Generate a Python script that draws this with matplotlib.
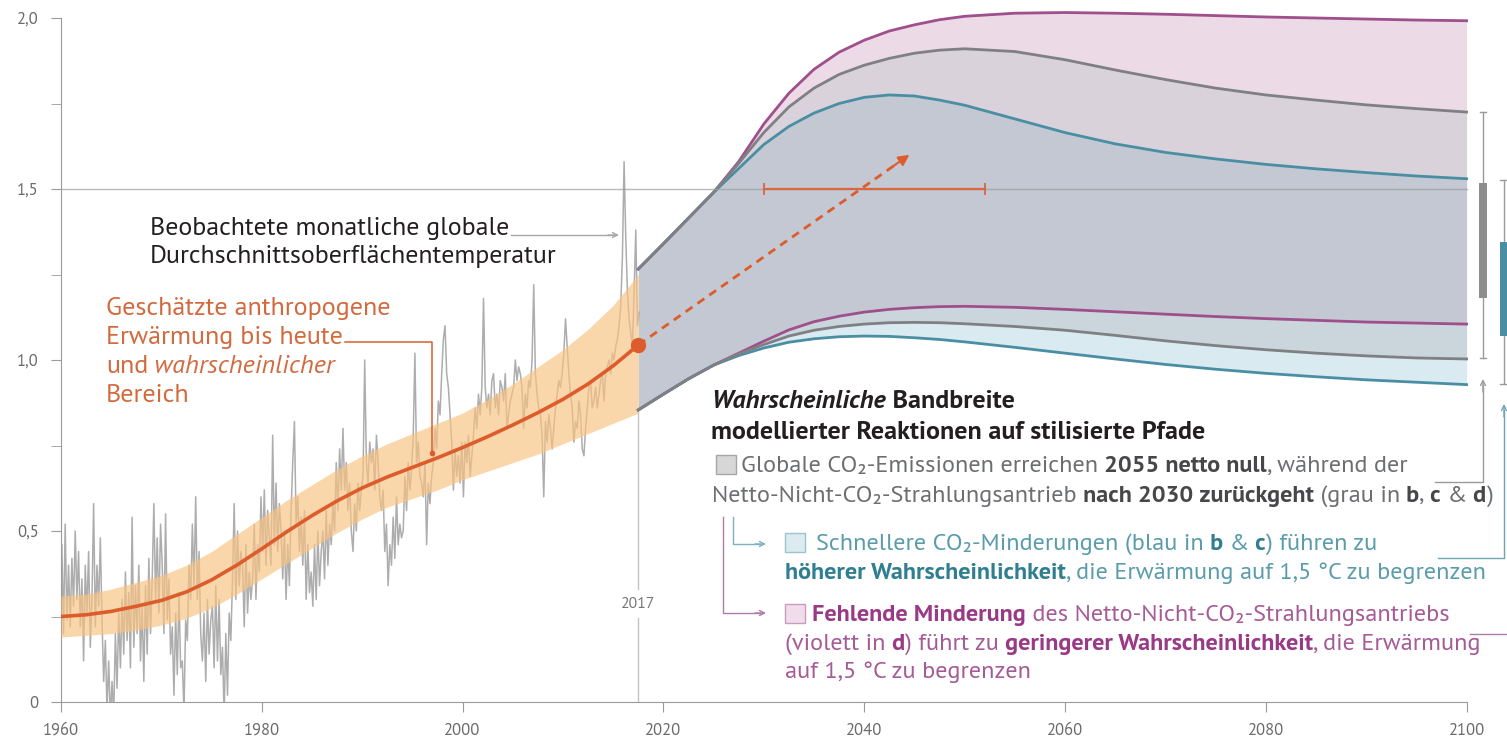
import numpy as np
import matplotlib
matplotlib.use('Agg')
import matplotlib.pyplot as plt
from matplotlib import font_manager
from matplotlib.lines import Line2D
from matplotlib.patches import Rectangle, FancyArrowPatch

W, H = 1507, 738

# observed monthly global mean surface temperature, six samples per year from 1960
OBS_START = 1960
OBS_VALUES = [
    0.46, 0.20, 0.52, 0.24, 0.40, 0.22,  # 1960
    0.42, 0.28, 0.50, 0.30, 0.44, 0.22,
    0.36, 0.12, 0.40, 0.26, 0.44, 0.16,
    0.30, 0.58, 0.22, 0.40, 0.28, 0.48,
    0.24, 0.06, 0.18, -0.02, 0.12, -0.05,
    0.06, -0.04, 0.20, 0.04, 0.26, 0.10,  # 1965
    0.30, 0.14, 0.38, 0.18, 0.32, 0.10,
    0.54, 0.16, 0.34, 0.20, 0.40, 0.12,
    0.28, 0.06, 0.34, 0.14, 0.42, 0.20,
    0.36, 0.58, 0.30, 0.48, 0.26, 0.52,
    0.40, 0.20, 0.55, 0.24, 0.36, 0.14,  # 1970
    0.22, 0.02, 0.26, 0.08, 0.32, 0.10,
    0.12, -0.03, 0.24, 0.18, 0.40, 0.30,
    0.52, 0.34, 0.60, 0.30, 0.44, 0.20,
    0.12, 0.26, 0.06, 0.30, 0.14, 0.24,
    0.28, 0.10, 0.34, 0.12, 0.30, 0.08,  # 1975
    0.16, -0.04, 0.20, 0.02, 0.26, 0.18,
    0.36, 0.58, 0.30, 0.50, 0.34, 0.44,
    0.40, 0.22, 0.46, 0.26, 0.38, 0.30,
    0.36, 0.52, 0.30, 0.46, 0.38, 0.60,
    0.44, 0.62, 0.40, 0.56, 0.48, 0.40,  # 1980
    0.78, 0.46, 0.64, 0.44, 0.58, 0.50,
    0.36, 0.50, 0.30, 0.46, 0.34, 0.56,
    0.70, 0.82, 0.52, 0.60, 0.44, 0.54,
    0.40, 0.56, 0.30, 0.46, 0.32, 0.38,
    0.28, 0.46, 0.30, 0.50, 0.34, 0.44,  # 1985
    0.50, 0.36, 0.56, 0.40, 0.52, 0.46,
    0.58, 0.50, 0.70, 0.56, 0.74, 0.62,
    0.80, 0.62, 0.70, 0.56, 0.64, 0.50,
    0.44, 0.58, 0.50, 0.64, 0.56, 0.62,
    0.66, 1.00, 0.70, 0.64, 0.76, 0.70,  # 1990
    0.74, 0.62, 0.78, 0.70, 0.60, 0.56,
    0.62, 0.44, 0.52, 0.34, 0.46, 0.40,
    0.54, 0.42, 0.60, 0.46, 0.52, 0.48,
    0.50, 0.66, 0.56, 0.70, 0.62, 0.68,
    0.78, 1.02, 0.70, 0.76, 0.66, 0.64,  # 1995
    0.60, 0.70, 0.46, 0.64, 0.58, 0.66,
    0.70, 0.80, 0.74, 0.88, 0.84, 0.96,
    1.06, 1.10, 0.96, 0.92, 0.84, 0.76,
    0.62, 0.74, 0.66, 0.72, 0.64, 0.76,
    0.60, 0.76, 0.70, 0.78, 0.66, 0.72,  # 2000
    0.78, 0.86, 0.80, 0.90, 0.84, 0.92,
    1.18, 0.92, 0.86, 0.90, 0.84, 0.94,
    0.96, 0.86, 0.90, 0.84, 0.94, 0.92,
    0.88, 0.96, 0.80, 0.84, 0.88, 0.90,
    0.92, 1.00, 0.94, 0.98, 0.96, 0.92,  # 2005
    0.80, 0.90, 0.86, 0.94, 0.92, 1.00,
    1.22, 0.96, 0.90, 0.86, 0.84, 0.78,
    0.60, 0.82, 0.76, 0.84, 0.80, 0.74,
    0.80, 0.86, 0.90, 0.94, 0.92, 0.96,
    1.02, 1.12, 1.04, 0.96, 0.90, 0.86,  # 2010
    0.76, 0.82, 0.80, 0.88, 0.84, 0.74,
    0.72, 0.80, 0.86, 0.92, 0.94, 0.86,
    0.88, 0.92, 0.86, 0.90, 0.94, 0.96,
    0.88, 0.96, 0.98, 1.00, 0.96, 1.02,
    1.00, 1.04, 1.06, 1.10, 1.16, 1.30,  # 2015
    1.58, 1.36, 1.20, 1.12, 1.08, 1.04,
    1.20, 1.38, 1.10, 1.14,
]

# estimated anthropogenic warming and likely range
ANTH_YEARS = [1960, 1962.5, 1965, 1967.5, 1970, 1972.5, 1975, 1977.5, 1980, 1982.5, 1985, 1987.5,
              1990, 1992.5, 1995, 1997.5, 2000, 2002.5, 2005, 2007.5, 2010, 2012.5, 2015, 2017.5]
ANTH_MID = [0.25, 0.255, 0.265, 0.28, 0.297, 0.322, 0.357, 0.40, 0.448, 0.498, 0.545, 0.588,
            0.626, 0.658, 0.686, 0.714, 0.744, 0.776, 0.81, 0.846, 0.885, 0.93, 0.983, 1.044]
ANTH_HI = [0.31, 0.315, 0.33, 0.35, 0.37, 0.40, 0.44, 0.49, 0.54, 0.59, 0.635, 0.68,
           0.72, 0.755, 0.785, 0.815, 0.845, 0.885, 0.93, 0.98, 1.03, 1.09, 1.16, 1.25]
ANTH_LO = [0.19, 0.195, 0.20, 0.21, 0.225, 0.245, 0.275, 0.315, 0.36, 0.405, 0.45, 0.495,
           0.535, 0.57, 0.595, 0.62, 0.65, 0.675, 0.70, 0.725, 0.755, 0.785, 0.815, 0.845]

# likely ranges of modelled responses to stylised pathways
FUT_YEARS = [2017.5, 2020, 2022.5, 2025, 2027.5, 2030, 2032.5, 2035, 2037.5, 2040, 2042.5, 2045,
             2047.5, 2050, 2055, 2060, 2065, 2070, 2075, 2080, 2085, 2090, 2095, 2100]
MAG_UP = [1.266, 1.34, 1.415, 1.49, 1.58, 1.69, 1.78, 1.85, 1.90, 1.935, 1.962, 1.98,
          1.995, 2.005, 2.014, 2.016, 2.014, 2.011, 2.007, 2.003, 2.0, 1.997, 1.994, 1.992]
GREY_UP = [1.266, 1.34, 1.415, 1.49, 1.575, 1.665, 1.74, 1.795, 1.835, 1.862, 1.882, 1.897,
           1.906, 1.91, 1.902, 1.878, 1.848, 1.82, 1.795, 1.775, 1.76, 1.746, 1.735, 1.725]
BLUE_UP = [1.266, 1.34, 1.415, 1.49, 1.56, 1.63, 1.683, 1.722, 1.75, 1.768, 1.775, 1.772,
           1.76, 1.745, 1.705, 1.665, 1.632, 1.607, 1.588, 1.572, 1.559, 1.548, 1.538, 1.53]
MAG_LO = [0.854, 0.90, 0.945, 0.985, 1.02, 1.055, 1.088, 1.112, 1.128, 1.14, 1.148, 1.153,
          1.156, 1.157, 1.154, 1.148, 1.141, 1.134, 1.127, 1.121, 1.116, 1.111, 1.108, 1.105]
GREY_LO = [0.854, 0.90, 0.945, 0.985, 1.018, 1.045, 1.07, 1.087, 1.098, 1.105, 1.109, 1.11,
           1.109, 1.106, 1.098, 1.087, 1.072, 1.056, 1.042, 1.03, 1.02, 1.012, 1.006, 1.003]
BLUE_LO = [0.854, 0.90, 0.945, 0.985, 1.013, 1.035, 1.052, 1.062, 1.068, 1.07, 1.069, 1.065,
           1.06, 1.053, 1.037, 1.02, 1.003, 0.987, 0.973, 0.961, 0.951, 0.942, 0.935, 0.928]

# 2100 ranges: whisker low, box low, box high, whisker high
GREY_RANGE = [1.006, 1.181, 1.518, 1.725]
BLUE_RANGE = [0.93, 1.07, 1.345, 1.526]

NOW_YEAR = 2017.5
NOW_VALUE = 1.044
ARROW_TIP = (2044.5, 1.60)
WINDOW_15 = [2030, 2052]
LEVEL_15 = 1.5

Y_TICKS = [0, 0.5, 1.0, 1.5, 2.0]
Y_LABELS = ['0', '0,5', '1,0', '1,5', '2,0']
Y_MINOR = [0.25, 0.75, 1.25, 1.75]
X_TICKS = [1960, 1980, 2000, 2020, 2040, 2060, 2080, 2100]

C_OBS = '#adadad'
C_ORANGE = '#dd5c2c'
C_BAND = '#f9c383'
C_ORANGE_TXT = '#d36a3e'
C_MAG = '#9e4f8c'
C_GREY = '#7f8083'
C_BLUE = '#4a8ea4'


def has_faces(name):
    faces = [f for f in font_manager.fontManager.ttflist if f.name == name]
    bold = any(isinstance(f.weight, int) and f.weight >= 600 or f.weight in ('bold', 'semibold') for f in faces)
    ital = any(f.style == 'italic' for f in faces)
    return bool(faces) and bold and ital


SANS = next((n for n in ['Source Sans 3', 'Source Sans Pro', 'PT Sans', 'Open Sans'] if has_faces(n)), 'DejaVu Sans')
FONT = [SANS, 'DejaVu Sans']

fig = plt.figure(figsize=(W / 100, H / 100), dpi=100)
ax = fig.add_axes([61 / W, (H - 702) / H, (W - 61) / W, 702 / H])
ax.set_xlim(1960, 1960 + (W - 61) / 10.04)
ax.set_ylim(0, 702 / 342)
REND = fig.canvas.get_renderer()


def px(x, y):
    # figure pixel -> data
    return 1960 + (x - 61) / 10.04, (702 - y) / 342


def ftext(x, y, s, **kw):
    kw.setdefault('family', FONT)
    return fig.text(x / W, 1 - y / H, s, va='baseline', **kw)


def measure(parts, size):
    total = 0
    for s, color, weight, style in parts:
        t = fig.text(0, 0, s, fontsize=size, fontweight=weight, fontstyle=style, family=FONT)
        total += t.get_window_extent(REND).width
        t.remove()
    return total


def fit(parts, target):
    return 10 * target / measure(parts, 10)


def rich(x, y, parts, size):
    for s, color, weight, style in parts:
        t = ftext(x, y, s, color=color, fontsize=size, fontweight=weight, fontstyle=style)
        x += t.get_window_extent(REND).width
    return x


def fline(xs, ys, color, lw=1.0):
    fig.add_artist(Line2D([x / W for x in xs], [1 - y / H for y in ys], color=color, lw=lw))


def farrow(p0, p1, color, lw=1.0):
    fig.add_artist(FancyArrowPatch((p0[0] / W, 1 - p0[1] / H), (p1[0] / W, 1 - p1[1] / H),
                                   transform=fig.transFigure, arrowstyle='->', mutation_scale=9,
                                   color=color, lw=lw, shrinkA=0, shrinkB=0))


def fbox(x, y, face, edge):
    fig.add_artist(Rectangle((x / W, 1 - (y + 19) / H), 20 / W, 19 / H, transform=fig.transFigure,
                             facecolor=face, edgecolor=edge, lw=1))


# axes styling
for s in ['top', 'right']:
    ax.spines[s].set_visible(False)
ax.spines['left'].set_bounds(0, 2.0)
ax.spines['bottom'].set_bounds(1960, 2100)
for s in ['left', 'bottom']:
    ax.spines[s].set_color('#9a9a9a')
ax.set_yticks(Y_TICKS)
ax.set_yticklabels(Y_LABELS)
ax.set_yticks(Y_MINOR, minor=True)
ax.set_xticks(X_TICKS)
tick_size = fit([('2100', 'k', 'normal', 'normal')], 36)
ax.tick_params(axis='both', which='both', direction='out', color='#9a9a9a', length=7,
               labelcolor='#6a6a6a', labelsize=tick_size)
ax.tick_params(axis='y', pad=9)
ax.tick_params(axis='x', pad=8)
for lab in ax.get_xticklabels() + ax.get_yticklabels():
    lab.set_family(FONT)

# reference lines
ax.axhline(LEVEL_15, xmin=0, xmax=(2100 - 1960) / (ax.get_xlim()[1] - 1960), color='#9c9c9c',
           lw=1, alpha=0.7, zorder=6)
ax.plot([NOW_YEAR, NOW_YEAR], [0, 0.245], color='#c4c4c4', lw=1, zorder=1)
ax.plot([NOW_YEAR, NOW_YEAR], [0.33, 0.86], color='#c4c4c4', lw=1, zorder=1)
ax.text(NOW_YEAR, 0.287, '2017', ha='center', va='center', fontsize=tick_size * 0.95,
        color='#777777', family=FONT)

# observed series
obs_t = OBS_START + (np.arange(len(OBS_VALUES)) + 0.5) / 6
ax.plot(obs_t, OBS_VALUES, color=C_OBS, lw=1.1, zorder=2)

# anthropogenic warming
ax.fill_between(ANTH_YEARS, ANTH_LO, ANTH_HI, color=C_BAND, alpha=0.68, lw=0, zorder=3)
ax.plot(ANTH_YEARS, ANTH_MID, color=C_ORANGE, lw=2.6, zorder=4, solid_capstyle='round')
ax.plot([NOW_YEAR], [NOW_VALUE], 'o', color=C_ORANGE, ms=10, zorder=7)

# future ranges, filled region by region
ax.fill_between(FUT_YEARS, GREY_UP, MAG_UP, color='#ecdae7', lw=0, zorder=1)
ax.fill_between(FUT_YEARS, BLUE_UP, GREY_UP, color='#d9d2db', lw=0, zorder=1)
ax.fill_between(FUT_YEARS, MAG_LO, BLUE_UP, color='#c3c8d2', lw=0, zorder=1)
ax.fill_between(FUT_YEARS, GREY_LO, MAG_LO, color='#cad5dc', lw=0, zorder=1)
ax.fill_between(FUT_YEARS, BLUE_LO, GREY_LO, color='#d9eaf0', lw=0, zorder=1)
for up, lo, c in [(MAG_UP, MAG_LO, C_MAG), (BLUE_UP, BLUE_LO, C_BLUE), (GREY_UP, GREY_LO, C_GREY)]:
    ax.plot(FUT_YEARS, up, color=c, lw=2, zorder=5)
    ax.plot(FUT_YEARS, lo, color=c, lw=2, zorder=5)

# dashed trend arrow and 1.5 degC window
ax.plot([NOW_YEAR, ARROW_TIP[0] - 1.2], [NOW_VALUE, ARROW_TIP[1] - 0.025], color=C_ORANGE,
        lw=2, dashes=(3, 2.2), zorder=6)
ax.annotate('', xy=ARROW_TIP, xytext=(ARROW_TIP[0] - 1.6, ARROW_TIP[1] - 0.033),
            arrowprops=dict(arrowstyle='-|>', color=C_ORANGE, lw=1.5, mutation_scale=16,
                            shrinkA=0, shrinkB=0), zorder=6)
ax.plot(WINDOW_15, [LEVEL_15, LEVEL_15], color='#d9663f', lw=1.6, zorder=7)
ax.plot(WINDOW_15, [LEVEL_15, LEVEL_15], ls='none', marker='|', ms=9, mew=1.3, color='#d9663f', zorder=7)

# 2100 ranges
for xpix, rng, c in [(1483, GREY_RANGE, '#8d8d8d'), (1503.5, BLUE_RANGE, C_BLUE)]:
    xb = px(xpix, 0)[0]
    ax.plot([xb, xb], [rng[0], rng[3]], color='#9a9a9a', lw=1, zorder=5, clip_on=False)
    for v in (rng[0], rng[3]):
        ax.plot([xb - 0.3, xb + 0.3], [v, v], color='#9a9a9a', lw=1, zorder=5, clip_on=False)
    ax.bar(xb, rng[2] - rng[1], bottom=rng[1], width=0.7, color=c, zorder=6, clip_on=False)

N, B, I = 'normal', 'bold', 'italic'

# annotations
obs_size = fit([('Durchschnittsoberflächentemperatur', 'k', N, N)], 410)
ftext(150, 235, 'Beobachtete monatliche globale', fontsize=obs_size, color='#231f20')
ftext(150, 263, 'Durchschnittsoberflächentemperatur', fontsize=obs_size, color='#231f20')
fline([511, 616], [235, 235], '#a8a8a8')
farrow((608, 235), (619, 235), '#a8a8a8')

ora_size = fit([('Geschätzte anthropogene', 'k', N, N)], 286)
ftext(106, 315, 'Geschätzte anthropogene', fontsize=ora_size, color=C_ORANGE_TXT)
end_x = rich(106, 344, [('Erwärmung bis heute', C_ORANGE_TXT, N, N)], ora_size)
rich(106, 373, [('und', C_ORANGE_TXT, N, N), (' wahrscheinlicher', C_ORANGE_TXT, N, I)], ora_size)
ftext(106, 402, 'Bereich', fontsize=ora_size, color=C_ORANGE_TXT)
lead_x = px(432, 0)[0]
lead_y = float(np.interp(lead_x, ANTH_YEARS, ANTH_MID)) + 0.02
lx0, ly0 = px(end_x + 2, 342)
ax.plot([lx0, lead_x, lead_x], [ly0, ly0, lead_y], color=C_ORANGE, lw=1.1, zorder=8)
ax.plot([lead_x], [lead_y], 'o', ms=3, color=C_ORANGE, zorder=8)

# legend block
DARK = '#231f20'
G1, G2 = '#6d6e71', '#474749'
T1, T2 = '#5a9cab', '#2f7f91'
M1, M2 = '#a65a96', '#9a3a86'

TITLE2 = [('modellierter Reaktionen auf stilisierte Pfade', DARK, 'semibold', N)]
t_size = fit(TITLE2, 496)
rich(711, 408, [('Wahrscheinliche', DARK, 'semibold', I), (' Bandbreite', DARK, 'semibold', N)], t_size)
rich(711, 439, TITLE2, t_size)

LINE2 = [('Netto-Nicht-CO₂-Strahlungsantrieb', G1, N, N), (' nach 2030 zurückgeht', G2, B, N),
         (' (grau in', G1, N, N), (' b', G2, B, N), (',', G1, N, N), (' c', G2, B, N),
         (' &', G1, N, N), (' d', G2, B, N), (')', G1, N, N)]
SZ = fit(LINE2, 787)

fbox(716, 455, '#d7d7d7', '#a6a6a6')
rich(741, 472, [('Globale CO₂-Emissionen erreichen', G1, N, N), (' 2055 netto null', G2, B, N),
                (', während der', G1, N, N)], SZ)
rich(712, 502, LINE2, SZ)

fbox(785, 533, '#dcebf0', '#9cc3cf')
rich(816, 550, [('Schnellere CO₂-Minderungen (blau in', T1, N, N), (' b', T2, B, N), (' &', T1, N, N),
                (' c', T2, B, N), (') führen zu', T1, N, N)], SZ)
rich(785, 579, [('höherer Wahrscheinlichkeit', T2, B, N),
                (', die Erwärmung auf 1,5 °C zu begrenzen', T1, N, N)], SZ)

fbox(785, 604, '#f0dcea', '#c99bbd')
rich(812, 621, [('Fehlende Minderung', M2, B, N), (' des Netto-Nicht-CO₂-Strahlungsantriebs', M1, N, N)], SZ)
rich(785, 650, [('(violett in', M1, N, N), (' d', M2, B, N), (') führt zu', M1, N, N),
                (' geringerer Wahrscheinlichkeit', M2, B, N), (', die Erwärmung', M1, N, N)], SZ)
rich(785, 678, [('auf 1,5 °C zu begrenzen', M1, N, N)], SZ)

# connectors
fline([733, 733, 760], [517, 544, 544], '#7fb0bf')
farrow((755, 544), (766, 544), '#7fb0bf')
fline([723, 723, 760], [517, 613, 613], '#b07ba4')
farrow((755, 613), (766, 613), '#b07ba4')
fline([1435, 1483, 1483], [482, 482, 385], '#9a9a9a')
farrow((1483, 392), (1483, 379), '#9a9a9a')
fline([1438, 1504, 1504], [558, 558, 410], '#6fa5b3')
farrow((1504, 417), (1504, 404), '#6fa5b3')
fline([1470, 1507], [634, 634], '#b07ba4')

fig.savefig('out.png', dpi=100)
